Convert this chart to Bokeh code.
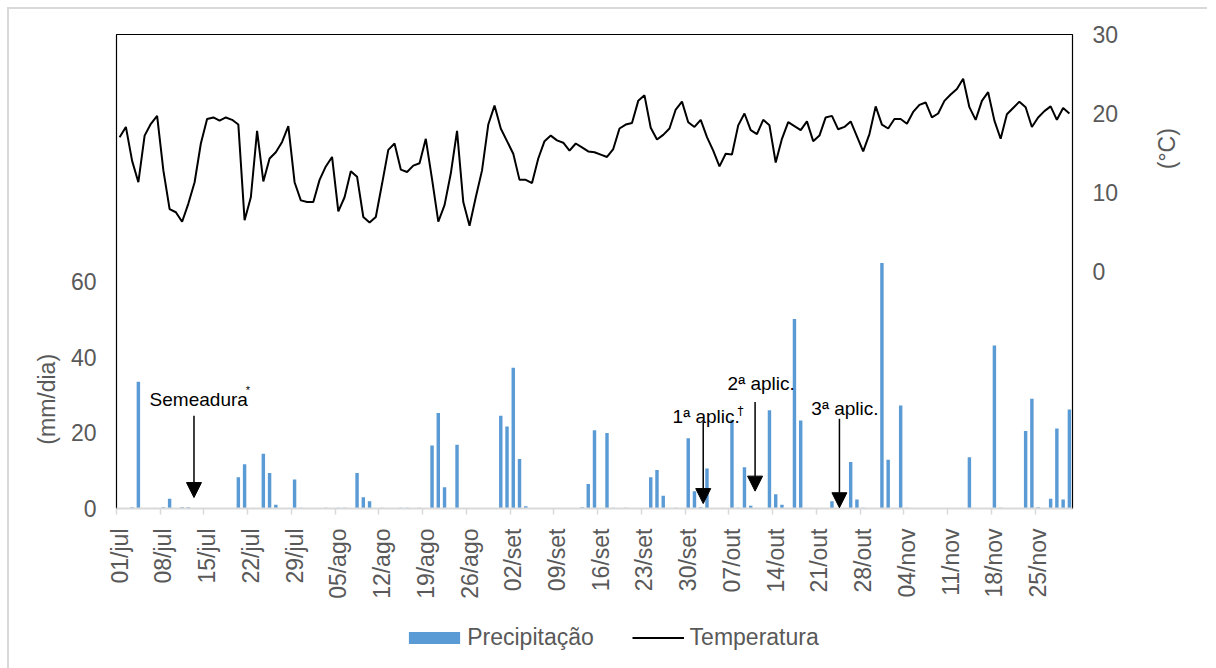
import math
from bokeh.plotting import figure
from bokeh.layouts import column
from bokeh.models import (Range1d, LinearAxis, FixedTicker, Legend, LegendItem,
                          Arrow, NormalHead, Label, ColumnDataSource)
from bokeh.embed import file_html
from bokeh.resources import INLINE

# ---------------- data ----------------
tick_labels = ["01/jul", "08/jul", "15/jul", "22/jul", "29/jul", "05/ago", "12/ago",
               "19/ago", "26/ago", "02/set", "09/set", "16/set", "23/set", "30/set",
               "07/out", "14/out", "21/out", "28/out", "04/nov", "11/nov", "18/nov",
               "25/nov"]

# daily mean temperature (°C), 01/jul .. 30/nov
temperature = [
    17.0, 18.3, 14.0, 11.3, 17.2, 18.7, 19.7, 12.8, 7.9, 7.5,
    6.3, 8.6, 11.3, 16.2, 19.3, 19.5, 19.1, 19.5, 19.2, 18.6,
    6.5, 9.4, 17.8, 11.4, 14.3, 15.1, 16.4, 18.4, 11.3, 9.0,
    8.8, 8.8, 11.6, 13.3, 14.5, 7.6, 9.4, 12.7, 12.0, 6.9,
    6.2, 6.9, 11.1, 15.4, 16.2, 12.9, 12.6, 13.4, 13.7, 16.8,
    11.7, 6.3, 8.4, 12.4, 17.8, 8.8, 5.8, 9.4, 12.8, 18.6,
    21.0, 18.1, 16.5, 14.9, 11.6, 11.6, 11.2, 14.3, 16.5, 17.2,
    16.6, 16.3, 15.3, 16.2, 15.7, 15.2, 15.1, 14.8, 14.5, 15.5,
    18.1, 18.6, 18.8, 21.6, 22.3, 18.2, 16.7, 17.3, 18.1, 20.5,
    21.5, 18.9, 18.3, 19.2, 17.0, 15.3, 13.3, 14.9, 14.8, 18.5,
    20.0, 17.9, 17.4, 19.2, 18.5, 13.8, 16.8, 18.9, 18.4, 17.9,
    19.0, 16.5, 17.2, 19.5, 19.7, 18.0, 18.3, 19.0, 17.1, 15.2,
    17.4, 20.9, 18.6, 18.1, 19.3, 19.3, 18.7, 20.2, 21.1, 21.4,
    19.5, 20.0, 21.6, 22.4, 23.1, 24.4, 20.8, 19.2, 21.6, 22.7,
    19.1, 16.8, 19.9, 20.7, 21.5, 20.8, 18.3, 19.5, 20.3, 20.9,
    19.2, 20.7, 20.0,
]

# daily precipitation (mm/dia)
precipitation = [
    0, 0, 0.3, 33.6, 0, 0, 0, 0.3, 2.6, 0,
    0.3, 0.3, 0, 0, 0, 0, 0, 0, 0, 8.3,
    11.7, 0, 0, 14.5, 9.4, 1.0, 0, 0, 7.7, 0.2,
    0, 0, 0, 0.2, 0, 0.2, 0.2, 0, 9.4, 3.0,
    1.9, 0, 0.2, 0, 0, 0.2, 0.2, 0, 0.2, 0,
    16.7, 25.3, 5.6, 0, 16.9, 0, 0, 0, 0, 0,
    0, 24.6, 21.7, 37.3, 13.1, 0.6, 0, 0, 0, 0,
    0, 0, 0, 0, 0.3, 6.5, 20.7, 0, 20.0, 0.2,
    0, 0.2, 0, 0, 0, 8.3, 10.2, 3.4, 0, 0.2,
    0, 18.6, 4.6, 0.3, 10.6, 0, 0, 0, 23.5, 0.2,
    10.9, 0.7, 0, 0, 26.0, 3.8, 1.0, 0, 50.2, 23.3,
    0, 0, 0, 0, 1.9, 0, 0, 12.3, 2.4, 0.2,
    0, 0, 65.0, 12.9, 0, 27.3, 0.2, 0, 0, 0,
    0, 0, 0, 0, 0, 0, 13.6, 0, 0, 0,
    43.2, 0.2, 0, 0, 0, 20.5, 29.1, 0.3, 0, 2.6,
    21.2, 2.4, 26.2,
]

series_names = ["Precipitação", "Temperatura"]
axis_titles = ["(mm/dia)", "(°C)"]

# event annotations (day index from 01/jul, arrow top / tip in mm, label position)
event_text = ["Semeadura", "1ª aplic.", "2ª aplic.", "3ª aplic."]
event_day = [11.9, 93.4, 101.7, 115.2]
arrow_top = [24.6, 22.9, 28.2, 23.8]
arrow_tip = [2.9, 1.3, 4.6, 0.2]
label_x = [4.8, 88.5, 97.3, 110.7]
label_y = [28.9, 24.5, 33.2, 26.5]

# ---------------- styling ----------------
FONT = "Liberation Sans"
GREY_TXT = "#595959"
BAR_COLOR = "#5b9bd5"
NBSP = "\u00a0"

n = len(temperature)
days = list(range(n))
src = ColumnDataSource(dict(day=days, prec=precipitation, temp=temperature))

# ---------------- main chart ----------------
p = figure(width=1198, height=599, output_backend="svg", toolbar_location=None,
           x_range=Range1d(-0.5, n - 0.5), y_range=Range1d(0, 125.56),
           min_border_left=107, min_border_right=135, min_border_top=25,
           min_border_bottom=100)
p.extra_y_ranges = {"temp": Range1d(-30, 30)}
p.xgrid.visible = False
p.ygrid.visible = False
p.outline_line_color = "black"
p.outline_line_width = 1.2
p.background_fill_color = "white"
p.border_fill_color = "white"

bars = p.vbar(x="day", top="prec", width=0.55, source=src,
              fill_color=BAR_COLOR, line_color=None)
line = p.line(x="day", y="temp", source=src, y_range_name="temp",
              line_color="black", line_width=2)

# x axis
xa = p.xaxis[0]
xa.ticker = FixedTicker(ticks=[7 * k for k in range(len(tick_labels))],
                        minor_ticks=[7 * k - 0.5 for k in range(len(tick_labels))])
xa.major_label_overrides = {7 * k: lab for k, lab in enumerate(tick_labels)}
xa.major_label_orientation = math.pi / 2
xa.major_tick_out = 0
xa.major_tick_in = 0
xa.minor_tick_out = 6
xa.minor_tick_in = 0
xa.minor_tick_line_color = "#d9d9d9"
xa.minor_tick_line_width = 1.5
xa.axis_line_color = "#d9d9d9"
xa.axis_line_width = 2
xa.major_label_standoff = 14
xa.major_label_text_font = FONT
xa.major_label_text_font_size = "23px"
xa.major_label_text_color = GREY_TXT

# left axis (title shifted towards the lower part, as in the original)
ya = p.yaxis[0]
ya.ticker = FixedTicker(ticks=[0, 20, 40, 60])
ya.axis_line_color = None
ya.major_tick_out = 0
ya.major_tick_in = 0
ya.minor_tick_line_color = None
ya.major_label_standoff = 20
ya.major_label_text_font = FONT
ya.major_label_text_font_size = "23px"
ya.major_label_text_color = GREY_TXT
ya.axis_label = axis_titles[0] + NBSP * 40
ya.axis_label_standoff = 8
ya.axis_label_text_font = FONT
ya.axis_label_text_font_style = "normal"
ya.axis_label_text_font_size = "23px"
ya.axis_label_text_color = GREY_TXT

# right axis (title shifted towards the upper part)
ra = LinearAxis(y_range_name="temp", ticker=FixedTicker(ticks=[0, 10, 20, 30]),
                axis_label=NBSP * 16 + axis_titles[1])
ra.axis_line_color = None
ra.major_tick_out = 0
ra.major_tick_in = 0
ra.minor_tick_line_color = None
ra.major_label_standoff = 20
ra.major_label_text_font = FONT
ra.major_label_text_font_size = "23px"
ra.major_label_text_color = GREY_TXT
ra.axis_label_standoff = 46
ra.axis_label_orientation = math.pi / 2
ra.axis_label_text_font = FONT
ra.axis_label_text_font_style = "normal"
ra.axis_label_text_font_size = "23px"
ra.axis_label_text_color = GREY_TXT
p.add_layout(ra, "right")

# arrows and labels
for txt, d, top, tip, lx, ly in zip(event_text, event_day, arrow_top, arrow_tip,
                                    label_x, label_y):
    p.add_layout(Arrow(end=NormalHead(size=15, fill_color="black", line_color="black"),
                       x_start=d, y_start=top, x_end=d, y_end=tip,
                       line_color="black", line_width=1.5))
    p.add_layout(Label(x=lx, y=ly, text=txt, text_font=FONT, text_font_size="19px",
                       text_color="black", text_baseline="alphabetic",
                       text_align="left"))

# superscript marks
p.add_layout(Label(x=20.2, y=31.4, text="*", text_font=FONT, text_font_size="11px",
                   text_color="black", text_baseline="alphabetic"))
p.add_layout(Label(x=98.9, y=25.9, text="†", text_font="DejaVu Sans",
                   text_font_size="12px", text_color="black",
                   text_baseline="alphabetic"))

# ---------------- legend strip ----------------
lg = figure(width=1198, height=60, output_backend="svg", toolbar_location=None,
            x_axis_location=None, y_axis_location=None, min_border=0,
            x_range=Range1d(0, 1), y_range=Range1d(0, 1))
lg.xgrid.visible = False
lg.ygrid.visible = False
lg.outline_line_color = None
lg.background_fill_color = None
lg.border_fill_color = None
# legend-key renderers (no visible data of their own)
nan = float("nan")
lg_bar = lg.vbar(x=[nan], top=[nan], width=0.55, fill_color=BAR_COLOR, line_color=None)
lg_line = lg.line(x=[nan, nan], y=[nan, nan], line_color="black", line_width=2)

common = dict(orientation="horizontal", padding=0, margin=0, spacing=0,
              border_line_color=None, background_fill_alpha=0,
              label_text_font=FONT, label_text_font_size="23px",
              label_text_color=GREY_TXT, glyph_height=15, label_height=15)
leg1 = Legend(items=[LegendItem(label=series_names[0], renderers=[lg_bar])],
              location=(286.2, 17), glyph_width=64, label_standoff=1, **common)
leg2 = Legend(items=[LegendItem(label=series_names[1], renderers=[lg_line])],
              location=(515.6, 17), glyph_width=52, label_standoff=6, **common)
lg.add_layout(leg1)
lg.add_layout(leg2)

layout = column(p, lg, spacing=0)
layout.styles = {"margin-left": "7px", "margin-top": "7px",
                 "border-left": "2px solid #d9d9d9", "border-top": "2px solid #d9d9d9"}

open("out.html", "w").write(file_html(layout, INLINE))
